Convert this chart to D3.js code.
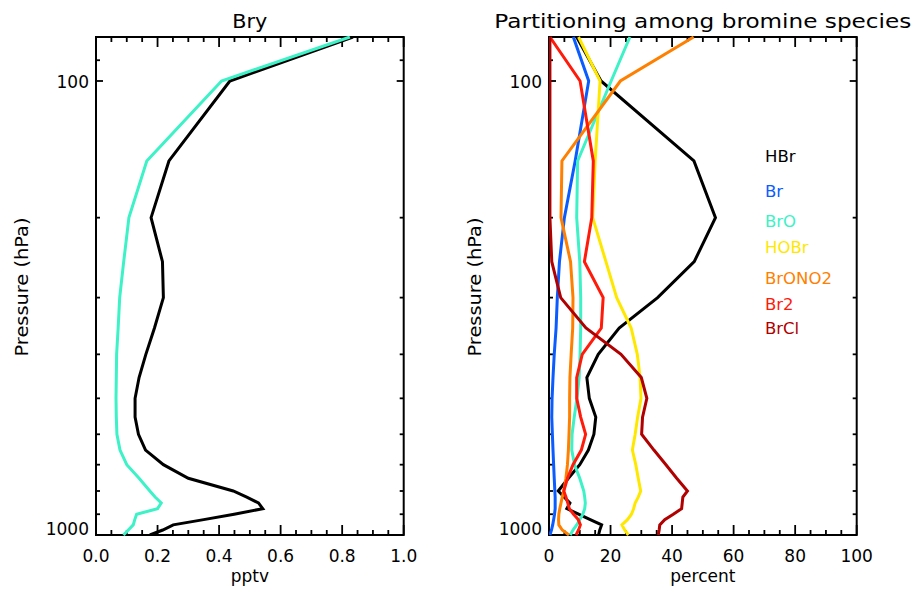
<!DOCTYPE html>
<html>
<head>
<meta charset="utf-8">
<script src="https://cdn.jsdelivr.net/npm/d3@7/dist/d3.min.js"></script>
<style>
  html, body { margin: 0; padding: 0; background: #fff; }
  svg { display: block; }
  text { font-family: "DejaVu Sans", sans-serif; fill: #000; }
</style>
</head>
<body>
<div id="chart"></div>
<script>
// ---------------- data ----------------
const pressure = [80, 100, 150, 200, 250, 300, 350, 400, 450, 500, 550, 600, 650, 700, 750, 800, 825, 850, 875, 900, 925, 950, 975, 1000];

// Left panel: Bry (pptv)
const bryBlack = [0.835, 0.435, 0.237, 0.179, 0.216, 0.219, 0.190, 0.162, 0.140, 0.127, 0.127, 0.138, 0.161, 0.219, 0.300, 0.446, 0.490, 0.528, 0.542, 0.449, 0.350, 0.251, 0.217, 0.175];
const bryCyan  = [0.825, 0.408, 0.165, 0.107, 0.090, 0.077, 0.072, 0.067, 0.066, 0.065, 0.066, 0.068, 0.078, 0.100, 0.140, 0.175, 0.192, 0.212, 0.200, 0.132, 0.126, 0.121, 0.105, 0.089];

// Right panel: partitioning (percent)
const speciesNames = ["HBr", "Br", "BrO", "HOBr", "BrONO2", "Br2", "BrCl"];
const hbr    = [9.0, 16.9, 47.1, 54.1, 47.2, 35.3, 22.8, 16.0, 12.3, 13.1, 15.2, 14.6, 12.8, 10.0, 6.3, 3.0, 4.9, 6.8, 5.8, 9.6, 13.4, 17.1, 16.5, 16.1];
const br     = [7.9, 12.9, 8.5, 5.0, 3.4, 2.7, 2.3, 1.7, 1.3, 1.0, 0.9, 1.1, 1.3, 1.5, 1.7, 1.9, 2.0, 2.0, 2.0, 1.8, 1.5, 1.2, 0.8, 0.3];
const bro    = [26.3, 20.2, 9.3, 9.0, 10.0, 10.3, 10.3, 10.1, 9.8, 9.1, 8.2, 7.5, 7.4, 8.3, 10.0, 11.3, 11.6, 11.8, 11.6, 11.0, 10.0, 9.0, 7.8, 6.9];
const hobr   = [9.6, 16.6, 15.0, 14.2, 18.5, 22.0, 26.7, 28.7, 29.6, 29.9, 28.8, 28.0, 27.1, 28.2, 29.0, 29.8, 29.0, 28.0, 27.5, 26.8, 25.5, 23.7, 24.6, 25.8];
const brono2 = [47.0, 23.2, 4.2, 3.9, 7.0, 7.8, 7.7, 7.2, 6.8, 6.7, 6.7, 6.5, 6.3, 6.0, 5.5, 4.8, 4.3, 3.9, 3.5, 3.2, 3.1, 3.2, 4.3, 6.5];
const br2    = [0.3, 10.1, 14.4, 13.9, 11.5, 17.6, 17.0, 10.8, 9.0, 9.0, 10.3, 11.9, 10.5, 7.8, 6.0, 4.8, 5.5, 6.1, 6.6, 8.0, 9.5, 10.2, 9.6, 8.8];
const brcl   = [0.3, 0.3, 0.3, 0.3, 0.9, 3.8, 12.0, 23.4, 30.0, 31.8, 30.4, 30.1, 34.1, 38.0, 41.5, 45.0, 43.5, 43.3, 43.1, 40.4, 37.6, 36.0, 35.8, 35.5];

// tick values / labels
const xTicksLeft = [0, 0.2, 0.4, 0.6, 0.8, 1.0];
const xTicksLeftLabels = ["0.0", "0.2", "0.4", "0.6", "0.8", "1.0"];
const xTicksRight = [0, 20, 40, 60, 80, 100];
const xTicksRightLabels = ["0", "20", "40", "60", "80", "100"];
const yTicksMajor = [100, 1000];
const yTicksMajorLabels = ["100", "1000"];
const yTicksMinor = [90, 200, 300, 400, 500, 600, 700, 800, 900];

// ---------------- styles / layout ----------------
const W = 914, H = 590;
const colors = ["#000000", "#0a5cff", "#3cf2c6", "#ffe800", "#ff8000", "#ff1a0a", "#b00000"];
const bryColors = ["#000000", "#3cf2c6"];
const legendBaselines = [161.7, 197.3, 227.3, 253.3, 284, 310, 334];
const plotTop = 37, plotBottom = 535;
const panels = [
  { x0: 96, x1: 403.7, domain: [0, 1], title: "Bry", titleLen: 35, xlabel: "pptv",
    ticks: xTicksLeft, tickLabels: xTicksLeftLabels, minorStep: 0.05 },
  { x0: 549, x1: 856.7, domain: [0, 100], title: "Partitioning among bromine species", titleLen: 417, xlabel: "percent",
    ticks: xTicksRight, tickLabels: xTicksRightLabels, minorStep: 5 }
];

const svg = d3.select("#chart").append("svg").attr("width", W).attr("height", H);

const y = d3.scaleLog().domain([1000, 80]).range([plotBottom, plotTop]);

function drawPanel(p) {
  const x = d3.scaleLinear().domain(p.domain).range([p.x0, p.x1]);
  const g = svg.append("g");
  const minors = d3.range(p.domain[0], p.domain[1] + p.minorStep / 2, p.minorStep)
    .filter(v => !p.ticks.some(t => Math.abs(t - v) < p.minorStep / 10));

  // x ticks bottom & top (inward)
  const tk = g.append("g").attr("stroke", "#000").attr("stroke-width", 1.8);
  p.ticks.forEach(v => {
    tk.append("line").attr("x1", x(v)).attr("x2", x(v)).attr("y1", plotBottom).attr("y2", plotBottom - 10);
    tk.append("line").attr("x1", x(v)).attr("x2", x(v)).attr("y1", plotTop).attr("y2", plotTop + 10);
  });
  minors.forEach(v => {
    tk.append("line").attr("x1", x(v)).attr("x2", x(v)).attr("y1", plotBottom).attr("y2", plotBottom - 5);
    tk.append("line").attr("x1", x(v)).attr("x2", x(v)).attr("y1", plotTop).attr("y2", plotTop + 5);
  });
  // y ticks left & right
  yTicksMajor.forEach(v => {
    tk.append("line").attr("x1", p.x0).attr("x2", p.x0 + 7).attr("y1", y(v)).attr("y2", y(v));
    tk.append("line").attr("x1", p.x1).attr("x2", p.x1 - 7).attr("y1", y(v)).attr("y2", y(v));
  });
  yTicksMinor.forEach(v => {
    tk.append("line").attr("x1", p.x0).attr("x2", p.x0 + 4).attr("y1", y(v)).attr("y2", y(v));
    tk.append("line").attr("x1", p.x1).attr("x2", p.x1 - 4).attr("y1", y(v)).attr("y2", y(v));
  });

  // x tick labels
  p.ticks.forEach((v, i) => {
    g.append("text").attr("x", x(v)).attr("y", 562).attr("text-anchor", "middle")
      .style("font-size", "17px").text(p.tickLabels[i]);
  });
  // y tick labels
  yTicksMajor.forEach((v, i) => {
    g.append("text").attr("x", p.x0 - 7).attr("y", Math.min(y(v) + 7.5, plotBottom))
      .attr("text-anchor", "end").style("font-size", "17px").text(yTicksMajorLabels[i]);
  });

  // titles and axis labels
  g.append("text").attr("x", (p.x0 + p.x1) / 2).attr("y", 28).attr("text-anchor", "middle")
    .attr("textLength", p.titleLen).attr("lengthAdjust", "spacingAndGlyphs")
    .style("font-size", "19px").text(p.title);
  g.append("text").attr("x", (p.x0 + p.x1) / 2).attr("y", 582).attr("text-anchor", "middle")
    .style("font-size", "17px").text(p.xlabel);
  g.append("text").attr("transform", `translate(${p.x0 - 68},287) rotate(-90)`)
    .attr("text-anchor", "middle").attr("textLength", 139).attr("lengthAdjust", "spacingAndGlyphs")
    .style("font-size", "17px").text("Pressure (hPa)");

  // frame
  g.append("rect").attr("x", p.x0).attr("y", plotTop).attr("width", p.x1 - p.x0).attr("height", plotBottom - plotTop)
    .attr("fill", "none").attr("stroke", "#000").attr("stroke-width", 2);
  return x;
}

const xL = drawPanel(panels[0]);
const xR = drawPanel(panels[1]);

// clip paths
[["clipL", panels[0]], ["clipR", panels[1]]].forEach(([id, p]) => {
  svg.append("clipPath").attr("id", id).append("rect")
    .attr("x", p.x0).attr("y", plotTop - 1).attr("width", p.x1 - p.x0).attr("height", plotBottom - plotTop + 2);
});

function drawLine(x, vals, color, clip) {
  const line = d3.line().x(d => x(d[0])).y(d => y(d[1]));
  svg.append("path").datum(vals.map((v, i) => [v, pressure[i]]))
    .attr("d", line).attr("fill", "none").attr("stroke", color)
    .attr("stroke-width", 3).attr("stroke-linejoin", "miter").attr("clip-path", `url(#${clip})`);
}

// left panel
drawLine(xL, bryBlack, bryColors[0], "clipL");
drawLine(xL, bryCyan, bryColors[1], "clipL");

// right panel
const speciesVals = [hbr, br, bro, hobr, brono2, br2, brcl];
speciesVals.forEach((vals, i) => drawLine(xR, vals, colors[i], "clipR"));

// legend labels
speciesNames.forEach((name, i) => {
  svg.append("text").attr("x", 765).attr("y", legendBaselines[i])
    .style("font-size", "16.5px").style("fill", colors[i]).text(name);
});
</script>
</body>
</html>
